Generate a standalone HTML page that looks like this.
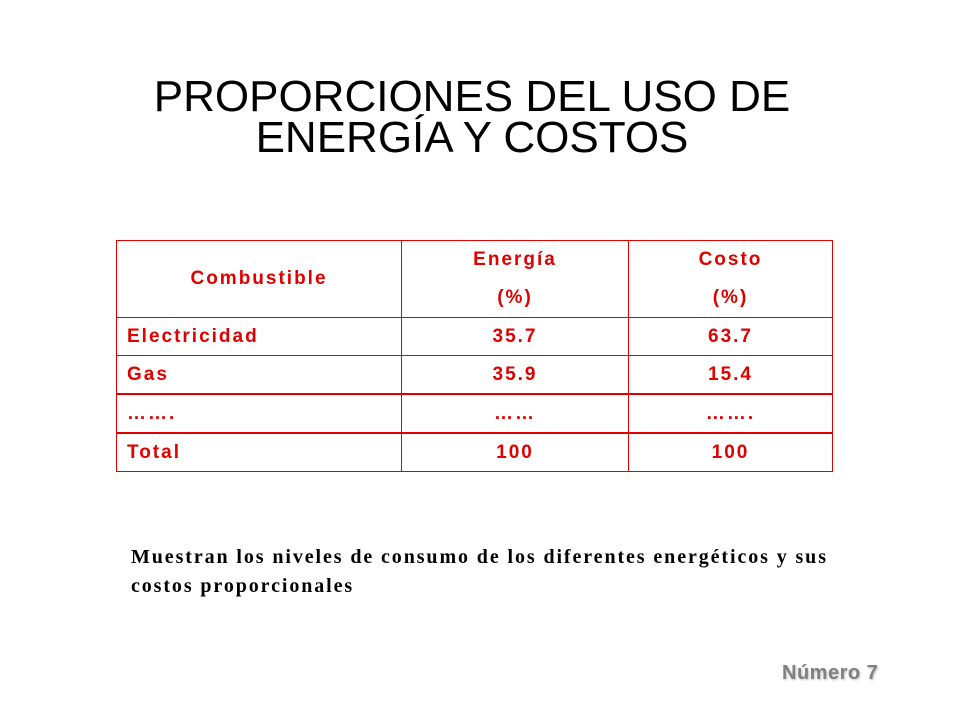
<!DOCTYPE html>
<html><head><meta charset="utf-8"><style>
body{margin:0;width:960px;height:720px;background:#fff;position:relative;overflow:hidden;font-family:"Liberation Sans",sans-serif}
#title{position:absolute;left:0;top:76px;width:944px;text-align:center;font-size:44px;line-height:41px;color:#000}
table{position:absolute;left:116px;top:240px;border-collapse:collapse;color:#e00000;font-weight:bold;font-size:19px;letter-spacing:2px}
td{border:1px solid #e00000;padding:0 10px;height:37px}
td.c{text-align:center}
#note{position:absolute;left:131px;top:543px;width:700px;font-family:"Liberation Serif",serif;font-weight:bold;font-size:20px;letter-spacing:1.9px;line-height:29px;color:#000}
#num{position:absolute;left:782px;top:662px;font-weight:bold;font-size:20px;letter-spacing:0.5px;color:#808080;text-shadow:1px 1px 2px #bbb}
</style></head><body>
<div id="title">PROPORCIONES DEL USO DE<br>ENERGÍA Y COSTOS</div>
<table>
<tr style="height:77px"><td class="c" style="width:264px">Combustible</td><td class="c" style="width:206px;line-height:38px">Energía<br>(%)</td><td class="c" style="width:183px;line-height:38px">Costo<br>(%)</td></tr>
<tr><td>Electricidad</td><td class="c">35.7</td><td class="c">63.7</td></tr>
<tr><td>Gas</td><td class="c">35.9</td><td class="c">15.4</td></tr>
<tr><td style="border-top-width:2px">…….</td><td class="c" style="border-top-width:2px">……</td><td class="c" style="border-top-width:2px">…….</td></tr>
<tr><td style="border-top-width:2px">Total</td><td class="c" style="border-top-width:2px">100</td><td class="c" style="border-top-width:2px">100</td></tr>
</table>
<div id="note">Muestran los niveles de consumo de los diferentes energéticos y sus costos proporcionales</div>
<div id="num">Número 7</div>
</body></html>
